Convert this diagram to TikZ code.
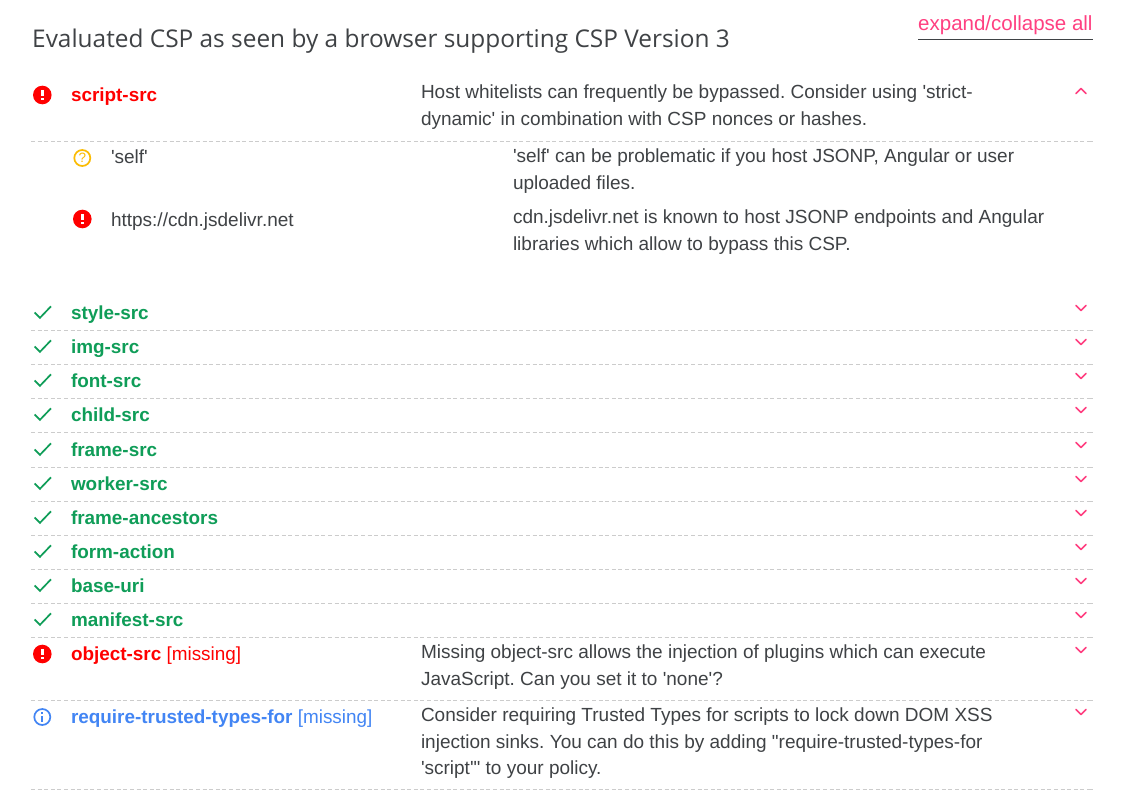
\documentclass[tikz,border=0pt]{standalone}
\usepackage{fontspec}
\newfontfamily\bodyfont{Liberation Sans}
\newfontfamily\titlefont{Open Sans}
\definecolor{ink}{HTML}{3F4245}
\definecolor{errred}{HTML}{FF0000}
\definecolor{okgreen}{HTML}{0F9D58}
\definecolor{infoblue}{HTML}{4285F4}
\definecolor{warnamber}{HTML}{FBBC04}
\definecolor{pink}{HTML}{FF4081}
\definecolor{sep}{HTML}{CCCCCC}
\newcommand{\bodyfs}{\bodyfont\frenchspacing\fontsize{19}{27.5}\selectfont}
\newcommand{\dirfs}{\bodyfont\frenchspacing\fontsize{18.9}{27.5}\selectfont}
\tikzset{
  x=1pt,y=-1pt,
  sepline/.style={draw=sep,line width=1pt,dash pattern=on 4pt off 2.6pt},
  txt/.style={anchor=base west,inner sep=0pt,outer sep=0pt,text=ink,font=\bodyfs},
  dir/.style={anchor=base west,inner sep=0pt,outer sep=0pt,font=\dirfs\bfseries},
  chev/.style={draw=pink,line width=1.7pt,line cap=round,line join=round},
  chk/.style={draw=okgreen,line width=1.7pt,line join=miter},
}
\newcommand{\errico}[2]{%
  \fill[errred] (#1+.3,#2) circle[radius=9.3];
  \fill[white] (#1-1.3,#2-5) rectangle (#1+1.9,#2+1.2);
  \fill[white] (#1-1.2,#2+2.6) rectangle (#1+1.8,#2+5.2);}
\newcommand{\chevdown}[1]{\draw[chev] (1076,#1-2.5) -- (1081,#1+2.5) -- (1086,#1-2.5);}
\newcommand{\chevup}[1]{\draw[chev] (1076,#1+2.5) -- (1081,#1-2.5) -- (1086,#1+2.5);}
\begin{document}
\begin{tikzpicture}
\useasboundingbox (0,0) rectangle (1124,797);
\fill[white] (0,0) rectangle (1124,797);
% header
\node[anchor=base west,inner sep=0pt,text=ink,font=\titlefont\fontsize{24.4}{28}\selectfont] (title) at (32,47.7) {Evaluated CSP as seen by a browser supporting CSP Version 3};
\node[anchor=base west,inner sep=0pt,text=pink,font=\bodyfont\fontsize{20.5}{24}\selectfont] (expand) at (918,31) {expand/collapse all};
\draw[ink,line width=1pt] (918,39.5) -- (1093,39.5);
% separators
\foreach \y in {141,330,364,398,432,467,501,535,569,603,637,700,789}{
  \draw[sepline] (31,\y+.5) -- (1090,\y+.5);
  \draw[draw=sep,line width=1pt] (1090,\y+.5) -- (1093,\y+.5);
}
% script-src
\errico{42}{95}
\node[dir,text=errred] (scriptsrc) at (71,102) {script-src};
\node[txt] (d1a) at (421,99) {Host whitelists can frequently be bypassed. Consider using 'strict-};
\node[txt] (d1b) at (421,126) {dynamic' in combination with CSP nonces or hashes.};
\chevup{91}
% self
\draw[warnamber,line width=1.7pt] (82.3,158) circle[radius=8];
\node[inner sep=0pt,text=warnamber,font=\bodyfont\fontsize{13.5}{13.5}\selectfont] (qm) at (82.3,158) {?};
\node[txt] (self) at (111,163) {'self'};
\node[txt] (d2a) at (513,162) {'self' can be problematic if you host JSONP, Angular or user};
\node[txt] (d2b) at (513,189) {uploaded files.};
% cdn
\errico{82}{219}
\node[txt] (cdn) at (111,226) {https://cdn.jsdelivr.net};
\node[txt] (d3a) at (513,223) {cdn.jsdelivr.net is known to host JSONP endpoints and Angular};
\node[txt] (d3b) at (513,250) {libraries which allow to bypass this CSP.};
% ok rows
\foreach \y/\t/\n in {319/style-src/a,353/img-src/b,387/font-src/c,421/child-src/d,456/frame-src/e,490/worker-src/f,524/frame-ancestors/g,558/form-action/h,592/base-uri/i,626/manifest-src/j}{
  \draw[chk] (34.7,\y-6.5) -- (40,\y-1.2) -- (51,\y-12.7);
  \node[dir,text=okgreen] (ok\n) at (71,\y) {\t};
  \chevdown{\y-11}
}
% object-src
\errico{42}{654}
\node[dir,text=errred] (objsrc) at (71,660) {object-src \mdseries[missing]};
\node[txt] (d4a) at (421,658) {Missing object-src allows the injection of plugins which can execute};
\node[txt] (d4b) at (421,685) {JavaScript. Can you set it to 'none'?};
\chevdown{650}
% trusted types
\draw[infoblue,line width=1.7pt] (42.3,717) circle[radius=8];
\fill[infoblue] (41.4,716) rectangle (43.2,722);
\fill[infoblue] (41.4,712.2) rectangle (43.2,714);
\node[dir,text=infoblue] (rtt) at (71,723) {require-trusted-types-for \mdseries[missing]};
\node[txt] (d5a) at (421,721) {Consider requiring Trusted Types for scripts to lock down DOM XSS};
\node[txt] (d5b) at (421,748) {injection sinks. You can do this by adding "require-trusted-types-for};
\node[txt] (d5c) at (421,774.5) {'script'" to your policy.};
\chevdown{712}
\end{tikzpicture}
\end{document}
